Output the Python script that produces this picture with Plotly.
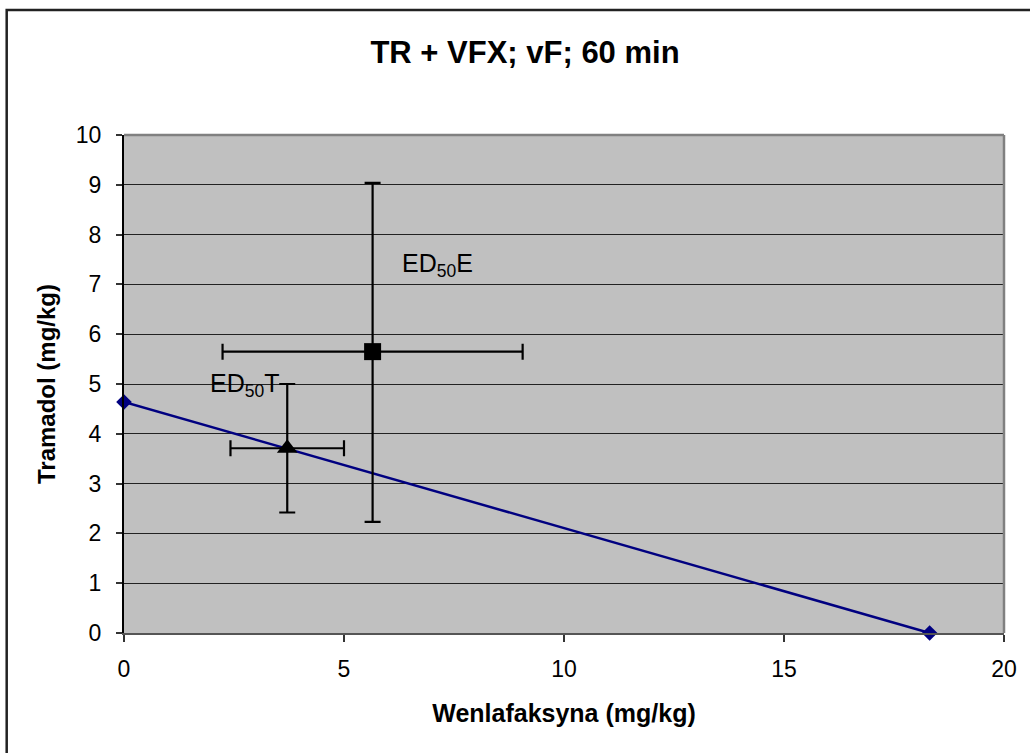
import plotly.graph_objects as go

# Isobole: ED50 of tramadol alone (y-axis) and venlafaxine alone (x-axis)
iso_x = [0.0, 18.31]
iso_y = [4.64, 0.0]

# Theoretical additive point ED50T with confidence limits
t_x, t_y = [3.71], [3.71]
t_x_lo, t_x_hi = [2.42], [5.00]
t_y_lo, t_y_hi = [2.42], [5.00]

# Experimental mixture point ED50E with confidence limits
e_x, e_y = [5.65], [5.65]
e_x_lo, e_x_hi = [2.24], [9.06]
e_y_lo, e_y_hi = [2.23], [9.04]

title_text = "TR + VFX; vF; 60 min"
x_title = "Wenlafaksyna (mg/kg)"
y_title = "Tramadol (mg/kg)"
x_ticks = [0, 5, 10, 15, 20]
y_ticks = list(range(0, 11))

FONT = "Liberation Sans, Arial, sans-serif"

fig = go.Figure()

fig.add_trace(go.Scatter(
    x=iso_x, y=iso_y, mode="lines+markers",
    line=dict(color="#000080", width=2.5),
    marker=dict(symbol="diamond", size=12, color="#000080"),
    showlegend=False, cliponaxis=False,
))


def err(c, lo, hi):
    return dict(type="data", symmetric=False,
                array=[h - v for h, v in zip(hi, c)],
                arrayminus=[v - l for v, l in zip(c, lo)],
                color="black", thickness=2.2, width=8)


fig.add_trace(go.Scatter(
    x=t_x, y=t_y, mode="markers",
    marker=dict(symbol="triangle-up", size=18, color="black"),
    error_x=err(t_x, t_x_lo, t_x_hi),
    error_y=err(t_y, t_y_lo, t_y_hi),
    showlegend=False,
))

fig.add_trace(go.Scatter(
    x=e_x, y=e_y, mode="markers",
    marker=dict(symbol="square", size=17, color="black"),
    error_x=err(e_x, e_x_lo, e_x_hi),
    error_y=err(e_y, e_y_lo, e_y_hi),
    showlegend=False,
))

fig.add_annotation(x=1.92, y=4.98, text="ED<sub>50</sub>T", showarrow=False,
                   xanchor="left", yanchor="middle",
                   font=dict(family=FONT, size=25, color="black"))
fig.add_annotation(x=6.27, y=7.39, text="ED<sub>50</sub>E", showarrow=False,
                   xanchor="left", yanchor="middle",
                   font=dict(family=FONT, size=25, color="black"))

# Gray frame on top and right of the plot area
fig.add_shape(type="line", xref="paper", yref="paper", x0=0, x1=1, y0=1, y1=1,
              line=dict(color="#808080", width=2.5))
fig.add_shape(type="line", xref="paper", yref="paper", x0=1, x1=1, y0=0, y1=1,
              line=dict(color="#808080", width=2.5))
# Outer chart frame
fig.add_shape(type="rect", xref="paper", yref="paper",
              x0=-0.1333, x1=1.04, y0=-0.26, y1=1.2508,
              line=dict(color="#222222", width=2.5), layer="below")

fig.update_layout(
    width=1030, height=753,
    margin=dict(l=124, r=26, t=135, b=120),
    paper_bgcolor="white", plot_bgcolor="#C0C0C0",
    font=dict(family=FONT, color="black"),
    title=dict(text="<b>" + title_text + "</b>", x=525 / 1030, xref="container",
               xanchor="center", y=1 - 52 / 753, yanchor="middle",
               font=dict(size=31, family=FONT)),
)

fig.update_xaxes(
    range=[0, 20], tickvals=x_ticks, ticktext=[str(v) for v in x_ticks],
    showgrid=False, zeroline=False,
    showline=True, linecolor="#555555", linewidth=2,
    ticks="outside", ticklen=7, tickcolor="#333333", tickwidth=1.5,
    tickfont=dict(size=23), ticklabelstandoff=7,
    title=dict(text="<b>" + x_title + "</b>", font=dict(size=25), standoff=24),
)
fig.update_yaxes(
    range=[0, 10], tickvals=y_ticks, ticktext=[str(v) for v in y_ticks],
    showgrid=True, gridcolor="#222222", gridwidth=1, zeroline=False,
    showline=True, linecolor="black", linewidth=2,
    ticks="outside", ticklen=6, tickcolor="#333333", tickwidth=1.5,
    tickfont=dict(size=23), ticklabelstandoff=10,
    title=dict(text="<b>" + y_title + "</b>", font=dict(size=24), standoff=13),
)

fig.write_html("out.html")
